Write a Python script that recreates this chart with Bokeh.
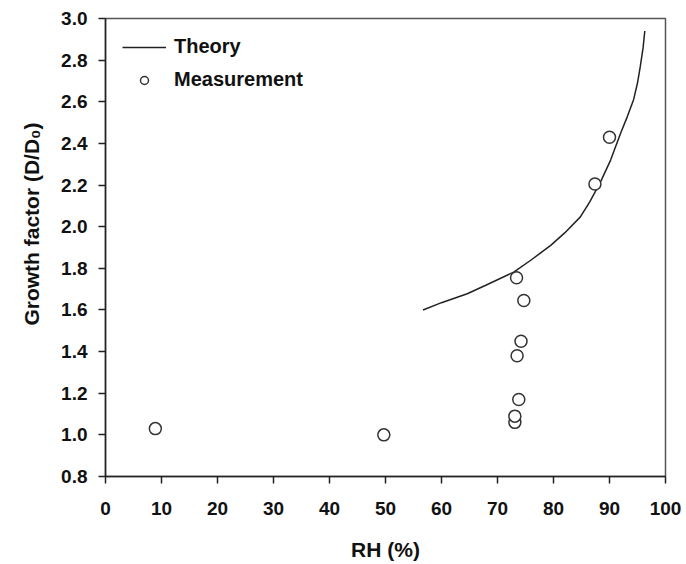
from bokeh.plotting import figure
from bokeh.models import (Range1d, FixedTicker, Legend, LegendItem, ColumnDataSource,
                          PrintfTickFormatter, Title)
from bokeh.embed import file_html
from bokeh.resources import INLINE

# Measurement data
meas_rh = [8.9, 49.7, 73.1, 73.1, 73.8, 73.5, 74.2, 74.7, 73.4, 87.4, 90.0]
meas_gf = [1.03, 1.00, 1.06, 1.09, 1.17, 1.38, 1.45, 1.645, 1.755, 2.205, 2.43]

# Theory curve
theory_rh = [56.7, 60.0, 64.6, 68.0, 72.9, 76.0, 79.5, 82.0, 84.8, 86.5, 88.4, 90.2, 92.0, 93.2, 94.3, 95.0, 95.5, 96.0, 96.3]
theory_gf = [1.60, 1.635, 1.678, 1.72, 1.782, 1.84, 1.91, 1.97, 2.047, 2.12, 2.215, 2.32, 2.45, 2.53, 2.61, 2.69, 2.77, 2.86, 2.94]

x_ticks = [0, 10, 20, 30, 40, 50, 60, 70, 80, 90, 100]
y_ticks = [0.8, 1.0, 1.2, 1.4, 1.6, 1.8, 2.0, 2.2, 2.4, 2.6, 2.8, 3.0]

FONT = "Liberation Sans"
TXT = "#111111"

p = figure(width=686, height=564, output_backend="svg", toolbar_location=None,
           x_range=Range1d(0, 100), y_range=Range1d(0.8, 3.0),
           min_border_left=105, min_border_right=21, min_border_top=18, min_border_bottom=88)
p.grid.visible = False
p.background_fill_color = "white"
p.border_fill_color = "white"
p.outline_line_color = "#555555"
p.outline_line_width = 1.5

src_t = ColumnDataSource(dict(x=theory_rh, y=theory_gf))
src_m = ColumnDataSource(dict(x=meas_rh, y=meas_gf))
r_line = p.line("x", "y", source=src_t, line_color="#222222", line_width=1.5)
r_pts = p.scatter("x", "y", source=src_m, marker="circle", size=12, fill_color="white",
                  line_color="#333333", line_width=1.5)

for ax in (p.xaxis[0], p.yaxis[0]):
    ax.axis_line_color = "#222222"
    ax.axis_line_width = 1.5
    ax.major_tick_line_color = "#222222"
    ax.major_tick_line_width = 1.5
    ax.major_tick_out = 7
    ax.major_tick_in = 0
    ax.minor_tick_line_color = None
    ax.major_label_text_font = FONT
    ax.major_label_text_font_style = "bold"
    ax.major_label_text_font_size = "19px"
    ax.major_label_text_color = TXT
    ax.axis_label_text_font = FONT
    ax.axis_label_text_font_style = "bold"
    ax.axis_label_text_font_size = "21px"
    ax.axis_label_text_color = TXT

p.xaxis[0].ticker = FixedTicker(ticks=x_ticks)
p.yaxis[0].ticker = FixedTicker(ticks=y_ticks)
p.yaxis[0].formatter = PrintfTickFormatter(format="%.1f")
p.xaxis[0].major_label_standoff = 18
p.yaxis[0].major_label_standoff = 11
p.xaxis[0].axis_label = "RH (%)"
p.xaxis[0].axis_label_standoff = 20

ylab = Title(text="Growth factor (D/D\u2080)", align="right", offset=104,
             text_font=FONT, text_font_style="bold", text_font_size="21px",
             text_color=TXT, standoff=31)
p.add_layout(ylab, "left")

legend = Legend(items=[LegendItem(label="Theory", renderers=[r_line]),
                       LegendItem(label="Measurement", renderers=[r_pts])],
                location="top_left")
legend.border_line_color = None
legend.background_fill_alpha = 0
legend.label_text_font = FONT
legend.label_text_font_style = "bold"
legend.label_text_font_size = "20px"
legend.label_text_color = TXT
legend.glyph_width = 44
legend.spacing = 10
legend.margin = 17
legend.padding = 2
legend.label_standoff = 8
p.add_layout(legend)

open("out.html", "w").write(file_html(p, INLINE))
